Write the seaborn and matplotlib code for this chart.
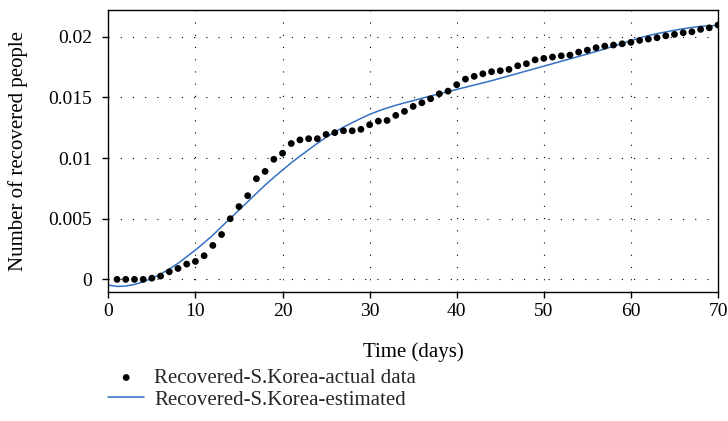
import numpy as np
import pandas as pd
import matplotlib
matplotlib.use("Agg")
import matplotlib.pyplot as plt
import seaborn as sns

# Actual data (days 1..70)
days_actual = list(range(1, 71))
recovered_actual = [
    0.0, 0.0, 0.0, 0.0, 0.0001, 0.00027, 0.00063, 0.0009, 0.00126, 0.00148,
    0.00195, 0.0028, 0.0037, 0.0050, 0.0060, 0.0069, 0.0083, 0.0089, 0.0099, 0.0104,
    0.0112, 0.0115, 0.0116, 0.0116, 0.01195, 0.0121, 0.01225, 0.01225, 0.01237, 0.01275,
    0.01305, 0.0131, 0.01352, 0.01385, 0.01426, 0.01456, 0.01489, 0.0153, 0.01552, 0.01605,
    0.01651, 0.01674, 0.01695, 0.01712, 0.0172, 0.01731, 0.01761, 0.01778, 0.0181, 0.01822,
    0.01833, 0.01843, 0.01849, 0.01874, 0.0189, 0.0191, 0.01923, 0.01932, 0.01942, 0.01954,
    0.0197, 0.01981, 0.01992, 0.02008, 0.0202, 0.02033, 0.02041, 0.02061, 0.02074, 0.02097,
]

# Estimated curve (days 0..70)
days_est = list(range(0, 71))
recovered_est = [
    -0.00047, -0.00058, -0.00055, -0.00042, -0.0002, 0.00008, 0.00044, 0.00085, 0.00132, 0.00187,
    0.00242, 0.00302, 0.00365, 0.00434, 0.00503, 0.00571, 0.0064, 0.00709, 0.00777, 0.00841,
    0.00901, 0.00961, 0.01016, 0.01069, 0.01122, 0.01172, 0.01214, 0.01255, 0.01292, 0.01327,
    0.0136, 0.01388, 0.01413, 0.01435, 0.01455, 0.01474, 0.01493, 0.01512, 0.0153, 0.01548,
    0.01566, 0.01584, 0.01602, 0.0162, 0.01638, 0.01658, 0.01678, 0.01698, 0.01718, 0.01738,
    0.01758, 0.01778, 0.01798, 0.01818, 0.01838, 0.01858, 0.01879, 0.019, 0.01922, 0.01945,
    0.01968, 0.0199, 0.0201, 0.02026, 0.0204, 0.02054, 0.02066, 0.02077, 0.02086, 0.02091,
    0.02093,
]

x_ticks = [0, 10, 20, 30, 40, 50, 60, 70]
y_ticks = [0, 0.005, 0.01, 0.015, 0.02]
y_tick_labels = ["0", "0.005", "0.01", "0.015", "0.02"]

sns.set_theme(style="ticks")
plt.rcParams["font.family"] = ["Liberation Serif", "DejaVu Serif"]

fig = plt.figure(figsize=(7.28, 4.21), dpi=100)
ax = fig.add_axes([0.1488, 0.307, 0.8375, 0.669])

df_a = pd.DataFrame({"day": days_actual, "rec": recovered_actual})
df_e = pd.DataFrame({"day": days_est, "rec": recovered_est})

sns.lineplot(data=df_e, x="day", y="rec", ax=ax, color="#3370c2", linewidth=1.1,
             label="Recovered-S.Korea-estimated", legend=False, zorder=2)
sns.scatterplot(data=df_a, x="day", y="rec", ax=ax, color="black", s=24,
                edgecolor="none", label="Recovered-S.Korea-actual data", legend=False, zorder=3)

ax.set_xlim(0, 70)
ax.set_ylim(-0.00102, 0.0222)
ax.set_xticks(x_ticks)
ax.set_yticks(y_ticks)
ax.set_yticklabels(y_tick_labels)
ax.grid(True, color="black", linestyle=(0, (1, 10)), linewidth=0.8)
for s in ax.spines.values():
    s.set_color("black")
    s.set_linewidth(1.0)
ax.tick_params(direction="out", length=4.5, width=1, colors="black", labelsize=14)
ax.tick_params(axis="y", pad=7)
ax.tick_params(axis="x", pad=3.5)
ax.set_xlabel("Time (days)", fontsize=15, color="black")
ax.set_ylabel("Number of recovered people", fontsize=15, color="black")
ax.xaxis.set_label_coords(0.5, -0.18)
ax.yaxis.set_label_coords(-0.132, 0.5)

h, l = ax.get_legend_handles_labels()
order = [1, 0]
fig.legend([h[i] for i in order], [l[i] for i in order], loc="upper left",
           bbox_to_anchor=(0.149, 0.125), frameon=False, fontsize=15,
           handlelength=1.7, borderaxespad=0, borderpad=0, labelspacing=0.1,
           handletextpad=0.5)

fig.savefig("out.png", dpi=100)
